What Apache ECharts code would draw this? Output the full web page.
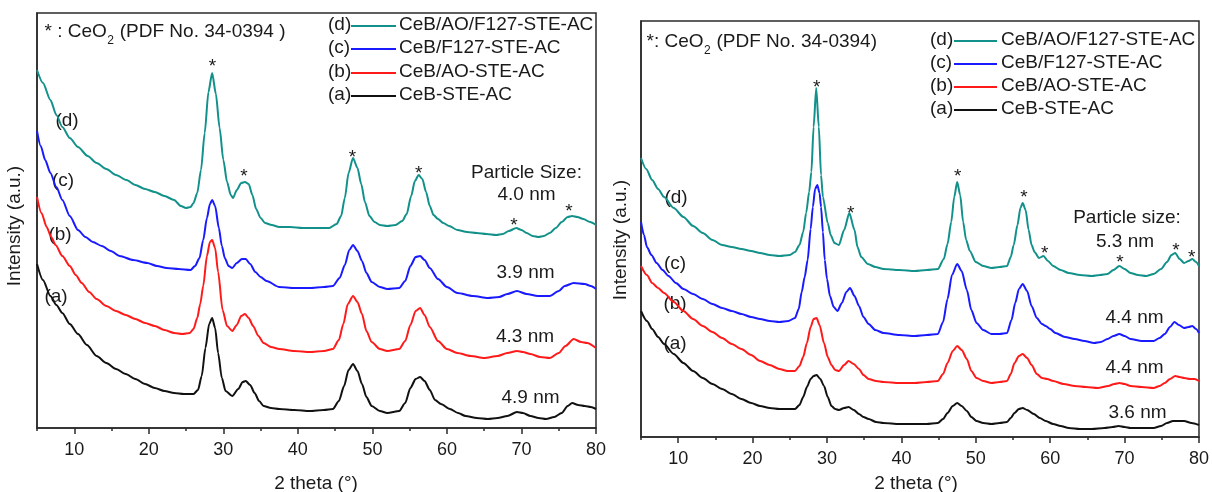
<!DOCTYPE html>
<html>
<head>
<meta charset="utf-8">
<script src="https://cdn.jsdelivr.net/npm/echarts@6/dist/echarts.min.js"></script>
<style>
html,body{margin:0;padding:0;background:#fff;}
#c{width:1212px;height:492px;}
</style>
</head>
<body>
<div id="c"></div>
<script>
// ---------- data (2 theta, intensity a.u.) ----------
const majorTicks = [10, 20, 30, 40, 50, 60, 70, 80];
const minorTicks = [5, 15, 25, 35, 45, 55, 65, 75];

const seriesNames = ['CeB/AO/F127-STE-AC', 'CeB/F127-STE-AC', 'CeB/AO-STE-AC', 'CeB-STE-AC'];
const seriesTags = ['(d)', '(c)', '(b)', '(a)'];

const leftSizes = ['4.0 nm', '3.9 nm', '4.3 nm', '4.9 nm'];
const rightSizes = ['5.3 nm', '4.4 nm', '4.4 nm', '3.6 nm'];

const leftD = [[5.0,358],[5.8,345],[6.8,328],[7.6,313],[8.4,301],[9.4,290],[10.5,281],[11.8,272],[13.0,265],[14.3,259],[15.6,253],[17.0,248],[18.2,243],[19.5,239],[20.8,236],[22.1,232],[23.4,228],[24.3,222],[25.0,220],[25.6,221],[26.0,225],[26.5,235],[27.0,258],[27.5,295],[28.0,336],[28.5,355],[29.0,334],[29.5,300],[30.0,268],[30.5,246],[31.0,233],[31.3,230],[31.8,238],[32.4,245],[32.9,246],[33.4,244],[33.9,233],[34.4,219],[35.0,210],[35.6,205],[36.5,203],[37.5,201],[39.0,201],[40.6,200],[42.5,200],[44.2,200],[45.2,204],[45.8,212],[46.3,230],[46.8,255],[47.4,270],[48.0,260],[48.5,244],[49.0,226],[49.6,212],[50.3,206],[51.0,203],[52.0,202],[53.1,203],[54.0,207],[54.6,214],[55.2,232],[55.7,247],[56.2,253],[56.7,249],[57.2,236],[57.7,222],[58.2,213],[58.8,209],[59.5,205],[60.3,202],[61.4,198],[62.7,196],[64.0,195],[65.3,194],[66.6,193],[67.5,194],[68.3,197],[69.3,200],[70.0,198],[70.7,195],[71.5,192],[72.3,191],[73.0,192],[73.8,195],[74.6,200],[75.4,206],[76.2,211],[76.8,212],[77.5,211],[78.3,209],[79.2,206],[80.0,203]];
const leftC = [[5.0,297],[5.5,282],[6.1,268],[6.8,255],[7.6,241],[8.4,228],[9.4,212],[10.5,198],[11.5,191],[12.5,186],[13.7,182],[14.9,177],[16.1,172],[17.9,168],[19.8,165],[21.1,162],[22.4,160],[24.0,159],[25.6,158],[26.2,162],[26.8,170],[27.3,188],[27.8,210],[28.2,224],[28.5,228],[28.9,222],[29.4,200],[29.8,182],[30.2,170],[30.7,162],[31.2,160],[31.8,165],[32.5,169],[33.0,169],[33.6,164],[34.3,156],[35.0,151],[35.8,147],[37.5,141],[39.5,140],[41.6,140],[43.5,141],[44.7,142],[45.6,150],[46.3,163],[46.9,178],[47.4,183],[48.0,177],[48.6,167],[49.2,155],[49.9,146],[51.0,141],[52.0,139],[53.6,140],[54.4,147],[55.1,162],[55.8,171],[56.4,172],[57.0,168],[57.7,160],[58.8,149],[60.0,141],[61.4,135],[63.5,132],[65.5,130],[67.0,131],[68.1,134],[69.4,137],[70.7,134],[72.2,132],[73.8,132],[75.0,137],[75.8,142],[77.0,145],[78.5,144],[79.3,142],[80.0,139]];
const leftB = [[5.0,231],[5.6,215],[6.3,201],[6.9,191],[7.5,183],[8.4,172],[9.4,162],[10.2,153],[11.0,145],[12.0,136],[13.0,129],[14.3,122],[15.6,117],[16.9,113],[18.2,109],[19.5,105],[20.8,102],[22.1,98],[23.4,95],[24.5,94],[25.5,95],[26.0,99],[26.5,110],[26.9,124],[27.3,142],[27.8,172],[28.2,186],[28.5,188],[28.9,180],[29.3,156],[29.9,118],[30.5,102],[31.2,97],[31.8,103],[32.4,112],[32.9,114],[33.4,110],[34.0,102],[34.7,92],[35.4,85],[36.4,81],[37.5,79],[39.5,77],[41.6,76],[43.5,77],[44.7,79],[45.5,88],[46.1,104],[46.7,124],[47.4,132],[48.0,126],[48.6,114],[49.2,97],[49.9,86],[51.0,79],[52.0,77],[53.6,79],[54.4,87],[55.1,103],[55.8,117],[56.4,120],[57.0,113],[57.7,101],[58.8,87],[60.0,79],[61.4,75],[63.2,72],[65.0,70],[66.8,72],[68.1,75],[69.4,77],[70.2,76],[71.2,74],[72.5,71],[73.8,70],[75.0,75],[75.9,82],[77.0,89],[78.0,86],[78.8,85],[80.0,80]];
const leftA = [[5.0,164],[5.8,148],[6.8,132],[7.6,123],[8.4,115],[9.4,104],[10.5,94],[11.7,83],[13.0,72],[14.3,65],[15.6,59],[16.9,54],[18.2,49],[19.5,44],[20.8,40],[22.1,37],[23.4,35],[24.7,34],[26.0,34],[26.6,38],[27.1,52],[27.6,80],[28.1,104],[28.5,110],[28.9,100],[29.3,75],[29.8,50],[30.3,37],[31.2,32],[32.0,39],[32.6,46],[33.0,47],[33.6,43],[34.2,35],[34.8,27],[35.4,22],[36.4,20],[37.5,19],[39.5,18],[41.6,17],[43.5,18],[44.7,19],[45.5,27],[46.2,42],[46.8,58],[47.4,64],[48.0,57],[48.6,44],[49.2,31],[49.9,22],[51.0,17],[52.0,15],[53.6,17],[54.4,25],[55.1,40],[55.8,49],[56.4,51],[57.0,47],[57.7,38],[58.4,28],[59.2,24],[60.4,19],[61.5,15],[62.5,12],[64.0,10],[65.5,9],[66.8,10],[68.1,12],[69.4,16],[70.2,15],[71.2,12],[72.3,10],[73.3,9],[74.4,11],[75.4,15],[76.2,22],[76.8,25],[77.6,23],[78.5,22],[79.3,21],[80.0,19]];

const rightD = [[5.0,279],[5.7,268],[6.5,257],[7.3,248],[8.1,240],[9.4,229],[10.7,220],[12.0,211],[13.3,204],[14.6,197],[15.9,192],[17.2,190],[18.5,188],[19.8,186],[21.0,184],[22.3,182],[23.6,181],[25.0,182],[25.7,185],[26.3,192],[26.8,205],[27.2,224],[27.6,245],[27.9,265],[28.2,310],[28.55,349],[28.9,310],[29.2,262],[29.45,240],[30.1,214],[30.5,202],[31.0,194],[31.6,192],[32.3,207],[33.0,224],[33.7,207],[34.1,190],[34.6,180],[35.5,173],[36.5,170],[37.6,168],[39.7,167],[41.8,166],[43.4,167],[44.9,168],[45.7,178],[46.2,193],[46.7,215],[47.1,240],[47.5,255],[47.9,242],[48.3,215],[48.7,197],[49.2,186],[50.0,175],[51.0,171],[52.1,169],[53.2,170],[54.2,171],[54.7,180],[55.1,192],[55.6,212],[56.0,229],[56.3,234],[56.7,227],[57.1,207],[57.5,192],[57.9,185],[58.5,179],[59.1,181],[59.7,176],[60.4,171],[61.4,167],[62.5,164],[64.0,162],[65.6,161],[66.7,162],[67.7,163],[68.5,167],[69.3,171],[70.0,168],[70.8,164],[71.8,162],[72.9,161],[73.9,163],[74.9,168],[75.7,175],[76.3,182],[76.8,184],[77.4,178],[78.0,174],[78.6,176],[79.1,178],[79.6,175],[80.0,171]];
const rightC = [[5.0,215],[5.4,202],[5.8,190],[6.4,182],[7.1,174],[7.9,167],[8.7,161],[9.7,154],[10.7,148],[12.0,143],[13.3,138],[14.6,133],[15.9,129],[17.2,126],[18.5,123],[19.8,120],[21.0,118],[22.3,116],[23.6,115],[24.8,116],[25.7,119],[26.2,128],[26.6,145],[27.0,160],[27.4,177],[27.8,208],[28.1,230],[28.4,248],[28.7,252],[29.0,244],[29.2,230],[29.45,205],[29.7,177],[30.0,158],[30.4,141],[30.9,130],[31.4,126],[32.0,134],[32.6,145],[33.1,149],[33.7,141],[34.3,131],[34.9,120],[35.6,113],[36.5,107],[37.6,104],[39.7,102],[41.8,101],[43.4,102],[44.9,103],[45.6,115],[46.2,138],[46.8,162],[47.5,173],[48.1,166],[48.8,147],[49.4,127],[50.1,114],[51.0,107],[52.1,103],[53.2,103],[54.2,104],[54.8,117],[55.3,134],[55.8,148],[56.3,153],[56.9,146],[57.5,131],[58.2,119],[58.9,113],[59.4,111],[60.0,108],[60.7,104],[62.0,100],[63.3,98],[64.6,96],[65.9,94],[66.8,95],[67.7,98],[68.5,101],[69.3,103],[70.0,101],[70.8,98],[72.3,96],[73.9,96],[74.7,99],[75.4,103],[76.1,110],[76.7,115],[77.3,112],[78.0,109],[78.6,110],[79.1,111],[79.6,108],[80.0,104]];
const rightB = [[5.0,171],[5.8,162],[6.5,154],[7.3,149],[8.1,144],[9.4,135],[10.7,126],[12.0,118],[13.3,111],[14.6,105],[15.9,99],[17.2,93],[18.5,88],[19.8,82],[21.0,76],[22.3,72],[23.6,68],[24.7,66],[25.7,66],[26.3,71],[26.8,80],[27.3,94],[27.8,110],[28.2,118],[28.6,119],[29.0,112],[29.6,94],[30.1,80],[30.6,72],[31.1,67],[31.6,66],[32.3,72],[32.9,76],[33.6,73],[34.3,68],[34.9,62],[35.6,58],[36.6,56],[37.6,55],[39.7,54],[41.8,54],[43.4,55],[44.9,56],[45.6,63],[46.2,74],[46.9,86],[47.5,91],[48.1,87],[48.8,78],[49.4,66],[50.1,59],[51.0,56],[52.1,54],[53.2,55],[54.2,56],[54.7,63],[55.2,74],[55.8,81],[56.3,83],[56.9,79],[57.5,72],[58.2,63],[58.9,59],[59.6,58],[60.4,56],[61.8,53],[63.3,51],[64.8,50],[66.4,49],[67.8,51],[68.6,53],[69.3,54],[70.0,53],[70.8,51],[72.3,50],[73.9,49],[74.7,51],[75.4,54],[76.1,58],[76.8,61],[77.4,60],[78.0,59],[78.8,58],[79.4,58],[80.0,56]];
const rightA = [[5.0,126],[5.8,116],[6.5,108],[7.3,100],[8.1,93],[9.4,83],[10.7,74],[12.0,66],[13.3,59],[14.6,53],[15.9,48],[17.2,43],[18.5,38],[19.8,34],[21.0,31],[22.3,29],[23.6,28],[24.7,28],[25.7,28],[26.3,32],[26.8,40],[27.3,50],[27.8,58],[28.2,61],[28.6,62],[29.1,58],[29.6,51],[30.1,40],[30.6,31],[31.1,28],[31.6,27],[32.3,29],[32.9,30],[33.6,27],[34.3,23],[34.9,20],[35.6,18],[36.6,15],[37.6,14],[39.7,13],[41.8,13],[43.4,13],[44.9,14],[45.6,18],[46.2,24],[46.9,31],[47.5,34],[48.1,31],[48.8,26],[49.4,20],[50.1,16],[51.0,14],[52.1,13],[53.2,14],[54.2,15],[54.7,19],[55.2,24],[55.8,28],[56.3,29],[56.9,27],[57.8,23],[58.6,19],[59.4,16],[60.4,13],[61.4,11],[62.5,9],[64.0,8],[65.6,8],[67.3,9],[68.4,10],[69.2,11],[70.0,10],[70.8,9],[72.3,9],[73.9,9],[74.9,11],[75.7,14],[76.5,16],[77.3,16],[78.0,16],[79.0,14],[80.0,12]];

// ---------- styling ----------
const COLORS = ['#12918a', '#1a1aff', '#ff1a1a', '#111111'];
const FF = '"Liberation Sans", Arial, sans-serif';
const TXT = '#1a1a1a';
const AX = '#2a2a2a';

const chart = echarts.init(document.getElementById('c'), null, {renderer: 'canvas'});

const mctx = document.createElement('canvas').getContext('2d');
function tw(s, size) { mctx.font = size + 'px ' + FF; return mctx.measureText(s).width; }

function T(text, x, y, opts) {
  opts = opts || {};
  const size = opts.size || 19;
  const align = opts.align || 'center';
  return {
    type: 'text', x: x, y: y, rotation: opts.rotation || 0, silent: true,
    style: {
      text: text, fill: opts.color || TXT, font: size + 'px ' + FF,
      fontSize: size, fontFamily: FF,
      align: align, verticalAlign: 'middle',
      textAlign: align, textVerticalAlign: 'middle'
    }
  };
}
function L(x1, x2, y, color) {
  return { type: 'line', silent: true, shape: {x1: x1, y1: y, x2: x2, y2: y},
           style: {stroke: color, lineWidth: 2} };
}

function ceoNote(pre, post, x, y) {
  const a = tw(pre, 19);
  const b = tw('2', 12);
  return [
    T(pre, x, y, {align: 'left'}),
    T('2', x + a + 0.5, y + 9, {align: 'left', size: 12}),
    T(post, x + a + b + 1, y, {align: 'left'})
  ];
}

function legend(xTag, xL1, xL2, xName, rows) {
  const out = [];
  for (let i = 0; i < 4; i++) {
    out.push(T(seriesTags[i], xTag, rows[i], {align: 'left'}));
    out.push(L(xL1, xL2, rows[i] + 1, COLORS[i]));
    out.push(T(seriesNames[i], xName, rows[i], {align: 'left'}));
  }
  return out;
}

function star(x, y) { return T('*', x, y + 5, {size: 19}); }

const graphics = [].concat(
  // left panel
  ceoNote('* : CeO', ' (PDF No. 34-0394 )', 44.5, 32),
  legend(328, 351, 396, 399, [25, 48, 72, 95]),
  [
    T(seriesTags[0], 67, 121), T(seriesTags[1], 63, 181), T(seriesTags[2], 60, 235), T(seriesTags[3], 56, 297),
    T('Particle Size:', 526.5, 173), T(leftSizes[0], 526.5, 195),
    T(leftSizes[1], 525.5, 273), T(leftSizes[2], 525, 337), T(leftSizes[3], 530.5, 398),
    star(212.5, 62), star(244, 172), star(352.5, 153), star(418.6, 169), star(514, 221), star(569, 207),
    T('Intensity (a.u.)', 15, 226, {rotation: Math.PI / 2}),
    T('2 theta (°)', 316, 484)
  ],
  // right panel
  ceoNote('*: CeO', ' (PDF No. 34-0394)', 646.5, 42),
  legend(930, 954, 997, 1001, [40, 63, 86, 109]),
  [
    T(seriesTags[0], 676, 198), T(seriesTags[1], 675, 264), T(seriesTags[2], 675, 304), T(seriesTags[3], 675, 344),
    T('Particle size:', 1127, 218), T(rightSizes[0], 1125, 242),
    T(rightSizes[1], 1134.5, 318), T(rightSizes[2], 1134.5, 368), T(rightSizes[3], 1137.5, 413),
    star(816.7, 83), star(850.7, 209), star(957.8, 172), star(1024, 193),
    star(1044.7, 249), star(1120, 258), star(1176, 246), star(1191.6, 253),
    T('Intensity (a.u.)', 621, 240, {rotation: Math.PI / 2}),
    T('2 theta (°)', 916, 484)
  ]
);

function xMain(g) {
  return {
    gridIndex: g, type: 'value', min: 5, max: 80, interval: 5,
    axisLine: {show: true, onZero: false, lineStyle: {color: AX, width: 1.5}},
    axisTick: {show: true, customValues: majorTicks, length: 6, lineStyle: {color: AX, width: 1.5}},
    axisLabel: {show: true, customValues: majorTicks, fontSize: 18, fontFamily: FF, color: TXT, margin: 13},
    splitLine: {show: false}
  };
}
function xMinor(g) {
  return {
    gridIndex: g, type: 'value', min: 5, max: 80, interval: 5, position: 'bottom',
    axisLine: {show: false, onZero: false},
    axisTick: {show: true, customValues: minorTicks, length: 3, lineStyle: {color: AX, width: 1.5}},
    axisLabel: {show: false},
    splitLine: {show: false}
  };
}
function yAx(g, max) {
  return {
    gridIndex: g, type: 'value', min: 0, max: max,
    axisLine: {show: true, lineStyle: {color: AX, width: 1.5}},
    axisTick: {show: false}, axisLabel: {show: false}, splitLine: {show: false}
  };
}
function line(data, color, xi, yi, name) {
  return {
    type: 'line', name: name, data: data, xAxisIndex: xi, yAxisIndex: yi,
    showSymbol: false, symbol: 'none', smooth: 0.25, smoothMonotone: 'x',
    lineStyle: {color: color, width: 2}, itemStyle: {color: color},
    silent: true, animation: false, clip: true, z: 3
  };
}

chart.setOption({
  backgroundColor: '#ffffff',
  animation: false,
  grid: [
    {left: 37, top: 13, width: 559, height: 415, show: true, borderColor: AX, borderWidth: 1.5, backgroundColor: 'transparent'},
    {left: 641, top: 21, width: 560, height: 416, show: true, borderColor: AX, borderWidth: 1.5, backgroundColor: 'transparent'}
  ],
  xAxis: [xMain(0), xMinor(0), xMain(1), xMinor(1)],
  yAxis: [yAx(0, 415), yAx(1, 416)],
  series: [
    line(leftD, COLORS[0], 0, 0, 'L ' + seriesNames[0]),
    line(leftC, COLORS[1], 0, 0, 'L ' + seriesNames[1]),
    line(leftB, COLORS[2], 0, 0, 'L ' + seriesNames[2]),
    line(leftA, COLORS[3], 0, 0, 'L ' + seriesNames[3]),
    line(rightD, COLORS[0], 2, 1, 'R ' + seriesNames[0]),
    line(rightC, COLORS[1], 2, 1, 'R ' + seriesNames[1]),
    line(rightB, COLORS[2], 2, 1, 'R ' + seriesNames[2]),
    line(rightA, COLORS[3], 2, 1, 'R ' + seriesNames[3])
  ],
  graphic: graphics
});
</script>
</body>
</html>
